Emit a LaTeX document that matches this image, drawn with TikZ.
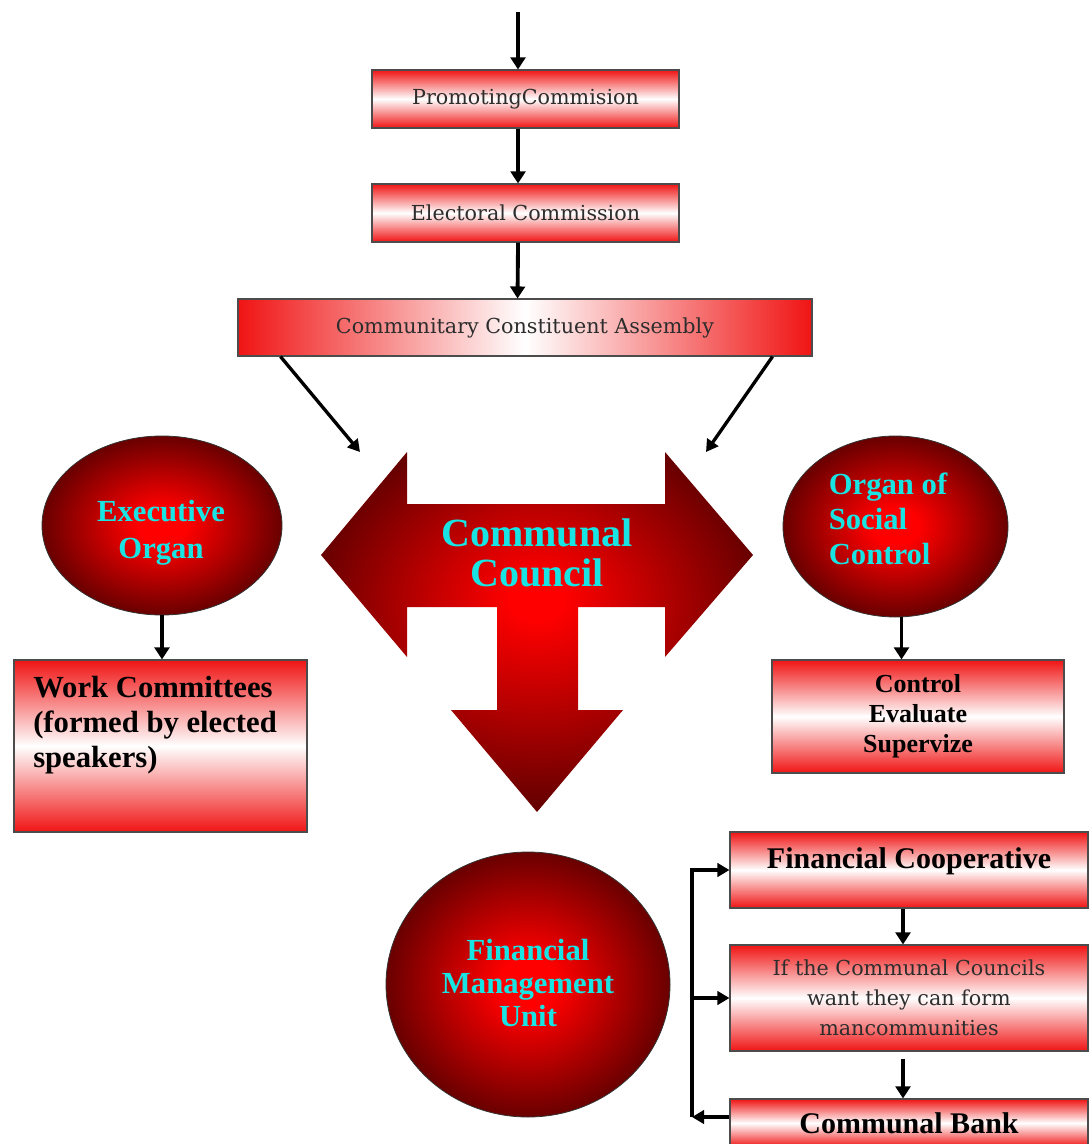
\documentclass[tikz,border=0pt]{standalone}
\usepackage{fontspec}
\setmainfont{Liberation Serif}
\newfontfamily\regfont{DejaVu Serif}
\usetikzlibrary{arrows.meta,shapes.geometric}
\definecolor{boxred}{RGB}{240,20,20}
\definecolor{deepred}{RGB}{105,0,0}
\definecolor{brightred}{RGB}{255,0,0}
\definecolor{aqua}{RGB}{25,228,228}
\definecolor{greytext}{RGB}{45,45,45}
\pgfdeclareradialshading{councilshade}{\pgfpoint{0bp}{5bp}}{color(0bp)=(brightred); color(3bp)=(brightred); color(26bp)=(deepred); color(50bp)=(deepred)}
\pgfdeclareradialshading{orbshade}{\pgfpoint{0bp}{0bp}}{color(0bp)=(brightred); color(5bp)=(brightred); color(25bp)=(deepred); color(50bp)=(deepred)}
\tikzset{
  box/.style={draw=black!70, line width=0.8pt, rectangle, inner sep=0pt,
    top color=boxred, bottom color=boxred, middle color=white},
  hbox/.style={draw=black!70, line width=0.8pt, rectangle, inner sep=0pt,
    left color=boxred, right color=boxred, middle color=white},
  orb/.style={ellipse, draw=black!80, line width=0.6pt, inner sep=0pt,
    shading=orbshade},
  orbtext/.style={align=center, text=aqua, inner sep=0pt,
    font=\bfseries\fontsize{23}{26}\selectfont},
  arr/.style={line width=2.9pt, -{Triangle[length=9pt,width=11pt]}, line join=miter},
  thinarr/.style={line width=2.5pt, -{Triangle[length=9pt,width=10pt]}, line join=miter},
  reg/.style={font=\regfont\fontsize{15.5}{22.5}\selectfont, text=greytext, align=center},
  boldtxt/.style={font=\bfseries\fontsize{22.5}{26}\selectfont, text=black},
}
\begin{document}
\begin{tikzpicture}[x=0.75pt,y=-0.75pt]
\useasboundingbox (0,0) rectangle (1091,1144);

% top chain
\node[box, minimum width=230.25pt, minimum height=43.5pt, reg] (promo) at (525.5,99) {PromotingCommision};
\node[box, minimum width=230.25pt, minimum height=43.5pt, reg] (elect) at (525.5,213) {Electoral Commission};
\node[hbox, minimum width=430.5pt, minimum height=42.75pt, reg] (assembly) at (525,327.5) {Communitary Constituent Assembly};

\coordinate (topin) at (518,12);
\draw[arr] (topin) -- (topin |- promo.north);
\draw[arr] ([xshift=-5.6pt]promo.south) -- ([xshift=-5.6pt]elect.north);
\draw[arr] ([xshift=-5.6pt]elect.south) -- ([xshift=-5.6pt]assembly.north);

% central T arrow
\shade[shading=councilshade] (321,555) -- (407,452) -- (407,504) -- (665,504) -- (665,452)
  -- (753,555) -- (665,657) -- (665,607) -- (578,607) -- (578,710) -- (623,710)
  -- (537,812) -- (451,710) -- (497,710) -- (497,607) -- (407,607) -- (407,657) -- cycle;
\node[font=\bfseries\fontsize{30}{30}\selectfont, text=aqua, align=center, inner sep=0pt] (council) at (537,553) {Communal\\Council};

\coordinate (tipL) at (360,452);
\coordinate (tipR) at (706,452);
\draw[thinarr] ([xshift=32.25pt]assembly.south west) -- (tipL);
\draw[thinarr] ([xshift=-30pt]assembly.south east) -- (tipR);

% side organs
\node[orb, minimum width=180pt, minimum height=134.25pt] (exec) at (162,525.5) {};
\node[orbtext, font=\bfseries\fontsize{23}{27.5}\selectfont] (exectext) at (161,533) {Executive\\Organ};
\node[orb, minimum width=168.75pt, minimum height=135.75pt] (social) at (895.5,526.5) {};
\node[orbtext, align=left] (socialtext) at (888,519) {Organ of\\Social\\Control};

\node[box, minimum width=219.75pt, minimum height=129pt] (work) at (160.5,746) {};
\node[boldtxt, font=\bfseries\fontsize{23}{26.25}\selectfont, anchor=north west, align=left, inner sep=0pt] (worktext) at (33,676) {Work Committees\\(formed by elected\\speakers)};
\draw[arr] (exec.south) -- (exec.south |- work.north);

\node[box, minimum width=219pt, minimum height=84.75pt, boldtxt, font=\bfseries\fontsize{19.5}{22.5}\selectfont, align=center] (control) at (918,716.5) {Control\\Evaluate\\Supervize};
\draw[arr] ([xshift=4.5pt]social.south) -- ([xshift=4.5pt]social.south |- control.north);

% financial management
\node[orb, minimum width=213pt, minimum height=198.75pt] (fmu) at (528,984.5) {};
\node[orbtext, font=\bfseries\fontsize{23}{25}\selectfont] (fmutext) at (528,983) {Financial\\Management\\Unit};

\node[box, minimum width=268.5pt, minimum height=57pt] (fincoop) at (909,870) {};
\node[boldtxt, inner sep=0pt] (fctext) at (909,861) {Financial Cooperative};
\node[box, minimum width=268.5pt, minimum height=79.5pt, reg] (mid) at (909,998) {If the Communal Councils\\want they can form\\mancommunities};
\node[box, minimum width=268.5pt, minimum height=36pt, boldtxt] (bank) at (909,1123) {Communal Bank};

\draw[arr] ([xshift=-4.5pt]fincoop.south) -- ([xshift=-4.5pt]mid.north);
\draw[arr] ([xshift=-4.5pt,yshift=-5.25pt]mid.south) -- ([xshift=-4.5pt]bank.north);
\coordinate (brk) at (692,1117);
\draw[thinarr] ([yshift=4.5pt]bank.west) -- (brk);
\draw[thinarr] (brk) |- (fincoop.west);
\draw[thinarr] (brk |- mid.west) -- (mid.west);
\end{tikzpicture}
\end{document}
